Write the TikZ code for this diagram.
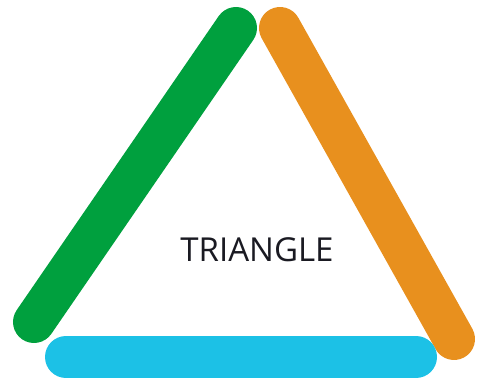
\documentclass[tikz,border=0pt]{standalone}
\usepackage{fontspec}
\setmainfont{Open Sans}
\definecolor{tgreen}{HTML}{00A03E}
\definecolor{torange}{HTML}{E8901E}
\definecolor{tblue}{HTML}{1CC1E6}
\definecolor{ttext}{HTML}{1A1A22}
\tikzset{bar/.style={line width=42pt, line cap=round}}
\begin{document}
\begin{tikzpicture}[x=1pt,y=-1pt]
\useasboundingbox (0,0) rectangle (477,387);
\coordinate (g1) at (236,28);
\coordinate (g2) at (34,322);
\coordinate (o1) at (280,28);
\coordinate (o2) at (454,339);
\coordinate (b1) at (66,357);
\coordinate (b2) at (416,357);
\draw[bar, tgreen] (g1) -- (g2);
\draw[bar, torange] (o1) -- (o2);
\draw[bar, tblue] (b1) -- (b2);
\node[text=ttext, font=\fontsize{33}{36}\selectfont] (t) at (257,250) {TRIANGLE};
\end{tikzpicture}
\end{document}
